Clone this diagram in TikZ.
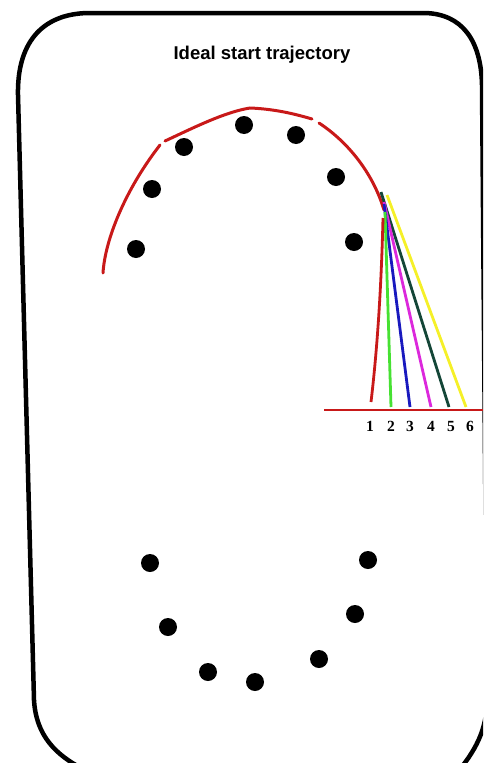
\documentclass[tikz,border=0pt]{standalone}
\usepackage{fontspec}
\setmainfont{Liberation Serif}
\setsansfont{Liberation Sans}
\begin{document}
\begin{tikzpicture}[x=1pt,y=-1pt,
  dot/.style={circle,fill=black,inner sep=0pt,minimum size=18pt},
  traj/.style={draw=trajred,line width=3pt,line cap=round},
  fan/.style={line width=2.8pt},
  num/.style={font=\fontsize{15.5}{16}\selectfont\bfseries\rmfamily,inner sep=0pt}]
\definecolor{trajred}{RGB}{200,25,25}
\definecolor{fgreen}{RGB}{70,225,50}
\definecolor{fblue}{RGB}{25,25,190}
\definecolor{fmag}{RGB}{220,40,220}
\definecolor{fdark}{RGB}{20,70,55}
\definecolor{fyellow}{RGB}{245,240,40}
\useasboundingbox (0,0) rectangle (483,763);
\begin{scope}
\clip (0,0) rectangle (483,763);
% border
\draw[line width=4.5pt,line cap=round]
  (34,700) -- (18,95) .. controls (17,45) and (40,14) .. (88,13)
  -- (425,13) .. controls (462,14) and (481,40) .. (482,85)
  -- (487,700) .. controls (487,730) and (475,752) .. (455,775);
\draw[line width=4.5pt]
  (34,700) .. controls (36,735) and (55,755) .. (85,770);
\end{scope}
% title
\node[font=\fontsize{18.5}{19}\selectfont\bfseries\sffamily,inner sep=0pt] (title) at (262,55) {Ideal start trajectory};
% trajectory arc
\draw[traj] (103,273) .. controls (105,240) and (125,190) .. (160,145);
\draw[traj] (165,141) .. controls (195,127) and (225,112) .. (250,108)
  .. controls (275,109) and (295,114) .. (312,119);
\draw[traj] (319,123) .. controls (345,140) and (372,170) .. (384,210);
% dots top
\foreach \n/\p in {d1/{(136,249)},d2/{(152,189)},d3/{(184,147)},d4/{(244,125)},d5/{(296,135)},d6/{(336,177)},d7/{(354,242)}}
  \node[dot] (\n) at \p {};
% dots bottom
\foreach \n/\p in {b1/{(150,563)},b2/{(168,627)},b3/{(208,672)},b4/{(255,682)},b5/{(319,659)},b6/{(355,614)},b7/{(368,560)}}
  \node[dot] (\n) at \p {};
% fan
\draw[fan,fyellow] (387,195) -- (466,407);
\draw[fan,fdark] (381,192) -- (449,407);
\draw[fan,fmag] (384,202) -- (431,407);
\draw[fan,fblue] (384,204) -- (410,407);
\draw[fan,fgreen] (385,212) -- (391,407);
\draw[fan,trajred] (383,218) .. controls (381,300) and (376,360) .. (371,402);
% baseline
\draw[draw=trajred,line width=2.2pt] (324,410) -- (483,410);
% numbers
\foreach \i/\x in {1/370,2/391,3/410,4/431,5/451,6/470}
  \node[num] (n\i) at (\x,426) {\i};
\end{tikzpicture}
\end{document}
